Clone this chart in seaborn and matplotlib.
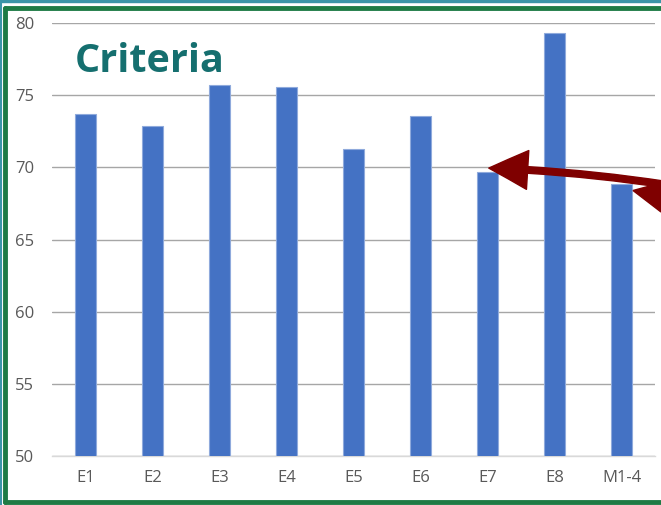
import matplotlib
matplotlib.use("Agg")
import matplotlib.pyplot as plt
import seaborn as sns
import pandas as pd
from matplotlib.patches import FancyArrowPatch, Polygon, Rectangle
from matplotlib.lines import Line2D

categories = ["E1", "E2", "E3", "E4", "E5", "E6", "E7", "E8", "M1-4"]
values = [73.7, 72.85, 75.67, 75.57, 71.27, 73.55, 69.67, 79.33, 68.82]
yticks = [50, 55, 60, 65, 70, 75, 80]

df = pd.DataFrame({"cat": categories, "val": values})

sns.set_style("white")
plt.rcParams["font.family"] = ["Open Sans", "DejaVu Sans"]

fig = plt.figure(figsize=(6.61, 5.05), dpi=100)
ax = fig.add_axes([52/661, 1-456/505, (655-52)/661, (456-23)/505])

sns.barplot(data=df, x="cat", y="val", color="#4472C4", width=0.31,
            saturation=1, edgecolor="#8FAADC", linewidth=0.8, ax=ax, zorder=3)

ax.set_ylim(50, 80)
ax.set_xlim(-0.5, len(categories) - 0.5)
ax.set_yticks(yticks)
ax.set_xlabel("")
ax.set_ylabel("")
ax.grid(axis="y", color="#A6A6A6", linewidth=1.0, zorder=0)
ax.set_axisbelow(True)
for s in ["top", "right", "left"]:
    ax.spines[s].set_visible(False)
ax.spines["bottom"].set_color("#D9D9D9")
ax.spines["bottom"].set_linewidth(1.0)
ax.tick_params(axis="both", length=0, labelcolor="#595959", labelsize=12)
ax.tick_params(axis="y", pad=13)
ax.tick_params(axis="x", pad=10)

# Title
fig.text(75/661, 1-72/505, "Criteria", fontsize=28.5, fontweight="bold",
         color="#156F6F", ha="left", va="baseline")

# Arrow (decorative)
W, H = 661, 505
def fc(x, y):
    return (x / W, 1 - y / H)

arr = FancyArrowPatch(fc(668, 185), fc(486, 168), transform=fig.transFigure,
                      connectionstyle="arc3,rad=0.03",
                      arrowstyle="simple,head_length=2.0,head_width=2.0,tail_width=0.34",
                      mutation_scale=14, color="#7F0000", zorder=10)
fig.patches.append(arr)
head2 = Polygon([fc(633, 190.5), fc(661, 183), fc(661, 212)], closed=True,
                transform=fig.transFigure, color="#7F0000", zorder=10)
fig.patches.append(head2)

# Frame
fig.patches.append(Rectangle((0, 1-2/505), 1, 2/505, transform=fig.transFigure,
                             color="#3C95A8", zorder=20))
fig.add_artist(Line2D([5/W, 5/W], [1-7.5/H, 1-502/H], transform=fig.transFigure,
                      color="#1E7B45", linewidth=3.5, zorder=20))
fig.add_artist(Line2D([5/W, 1], [1-7.5/H, 1-7.5/H], transform=fig.transFigure,
                      color="#1E7B45", linewidth=3.5, zorder=20))
fig.add_artist(Line2D([5/W, 1], [1-502/H, 1-502/H], transform=fig.transFigure,
                      color="#1E7B45", linewidth=3.5, zorder=20))
fig.add_artist(Line2D([0.8/W, 0.8/W], [0, 1], transform=fig.transFigure,
                      color="#3C95A8", linewidth=1.5, zorder=20))

fig.savefig("out.png", dpi=100)
